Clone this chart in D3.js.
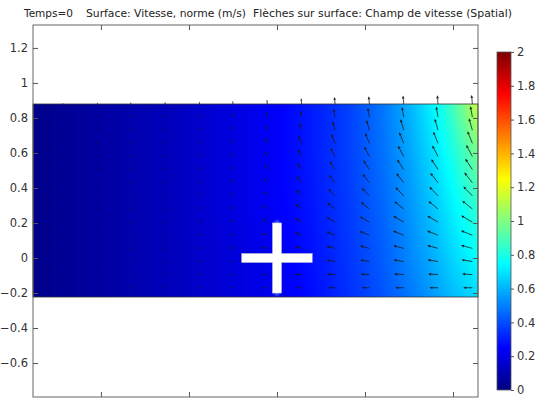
<!DOCTYPE html>
<html><head><meta charset="utf-8">
<script src="https://cdn.jsdelivr.net/npm/d3@7"></script>
<style>body{margin:0;background:#fff}svg{display:block}</style>
</head><body><svg id="chart" width="535" height="403"></svg>
<script>
// ---- data ----
const titleParts = ["Temps=0", "Surface: Vitesse, norme (m/s)", "Flèches sur surface: Champ de vitesse (Spatial)"];
const yTicks = [-0.6, -0.4, -0.2, 0, 0.2, 0.4, 0.6, 0.8, 1, 1.2];
const xTicks = [-1, -0.5, 0, 0.5, 1];
const colorTicks = [0, 0.2, 0.4, 0.6, 0.8, 1, 1.2, 1.4, 1.6, 1.8, 2];
const viewX = [-1.386, 1.142];
const viewY = [-0.794, 1.331];
const channelX = [-1.386, 1.142];
const channelY = [-0.22, 0.88];
const crossArm = 0.2;
const crossHalfWidth = 0.025;
// speed magnitude (m/s) sampled on a grid
const gridX = [-1.386, -1.0, -0.6, -0.3, 0, 0.2, 0.4, 0.6, 0.75, 0.9, 1.0, 1.142];
const gridY = [0.88, 0.6, 0.3, 0, -0.22];
const speedGrid = [
  [0.02, 0.07, 0.12, 0.18, 0.24, 0.30, 0.37, 0.48, 0.60, 0.75, 0.88, 1.14],
  [0.02, 0.07, 0.12, 0.18, 0.24, 0.30, 0.37, 0.47, 0.57, 0.70, 0.80, 0.98],
  [0.02, 0.07, 0.12, 0.18, 0.24, 0.29, 0.36, 0.45, 0.54, 0.65, 0.73, 0.85],
  [0.02, 0.07, 0.12, 0.17, 0.22, 0.28, 0.35, 0.43, 0.51, 0.60, 0.67, 0.76],
  [0.02, 0.07, 0.12, 0.17, 0.22, 0.27, 0.34, 0.41, 0.48, 0.56, 0.62, 0.68]
];
// arrow field
const arrowX = [-1.215, -1.02, -0.83, -0.635, -0.44, -0.25, -0.055, 0.14, 0.33, 0.525, 0.72, 0.915, 1.11];
const arrowY = [0.88, 0.805, 0.73, 0.655, 0.58, 0.505, 0.43, 0.355, 0.28, 0.205, 0.13, 0.055, -0.02, -0.095, -0.17];
const arrowAngle = [95, 100, 106, 112, 118, 123, 128, 134, 141, 150, 158, 165, 171, 176, 180];
const arrowSpeed = [
  [0.07,0.10,0.13,0.15,0.18,0.22,0.30,0.40,0.50,0.55,0.60,0.62,0.65],
  [0.09,0.12,0.15,0.18,0.21,0.27,0.37,0.48,0.60,0.67,0.73,0.76,0.79],
  [0.10,0.13,0.17,0.20,0.24,0.30,0.41,0.54,0.67,0.75,0.82,0.85,0.88],
  [0.10,0.14,0.18,0.21,0.25,0.32,0.43,0.57,0.71,0.79,0.86,0.89,0.93],
  [0.10,0.14,0.18,0.21,0.25,0.32,0.43,0.57,0.71,0.79,0.86,0.89,0.93],
  [0.10,0.14,0.18,0.21,0.25,0.32,0.43,0.57,0.71,0.79,0.86,0.89,0.93],
  [0.10,0.14,0.18,0.21,0.25,0.32,0.43,0.57,0.71,0.79,0.86,0.89,0.93],
  [0.10,0.14,0.18,0.21,0.25,0.32,0.43,0.57,0.71,0.79,0.86,0.89,0.93],
  [0.10,0.14,0.18,0.21,0.25,0.32,0.43,0.57,0.71,0.79,0.86,0.89,0.93],
  [0.10,0.14,0.18,0.21,0.25,0.32,0.43,0.57,0.71,0.79,0.86,0.89,0.93],
  [0.10,0.13,0.17,0.20,0.24,0.30,0.41,0.54,0.67,0.75,0.82,0.85,0.88],
  [0.09,0.13,0.16,0.19,0.23,0.29,0.39,0.51,0.64,0.71,0.77,0.80,0.84],
  [0.09,0.12,0.15,0.18,0.21,0.27,0.37,0.48,0.60,0.67,0.73,0.76,0.79],
  [0.08,0.11,0.14,0.17,0.20,0.26,0.34,0.46,0.57,0.63,0.69,0.71,0.74],
  [0.07,0.10,0.13,0.15,0.18,0.22,0.30,0.40,0.50,0.55,0.60,0.62,0.65]
];
const jetStops = [0, 0.25, 0.75, 1.25, 1.75, 2];
const jetColors = ["#00007f", "#0000ff", "#00ffff", "#ffff00", "#ff0000", "#7f0000"];

// ---- layout ----
const svg = d3.select("#chart");
const font = "DejaVu Sans, sans-serif";
const frame = {l: 33, r: 478, t: 25, b: 397};
const x = d3.scaleLinear().domain(viewX).range([frame.l, frame.r]);
const y = d3.scaleLinear().domain(viewY).range([frame.b, frame.t]);
const color = d3.scaleLinear().domain(jetStops).range(jetColors).interpolate(d3.interpolateRgb).clamp(true);
const cbBox = {l: 497, r: 511, t: 52, b: 390};
const cbScale = d3.scaleLinear().domain([0, 2]).range([cbBox.b, cbBox.t]);

// title
const titleX = [24, 86, 253];
const titleLen = [49, 160, 259];
titleParts.forEach((t, i) => {
  svg.append("text").attr("x", titleX[i]).attr("y", 17).attr("font-family", font)
    .attr("font-size", 10).attr("fill", "#222").attr("textLength", titleLen[i])
    .attr("lengthAdjust", "spacingAndGlyphs").text(t);
});

// surface via canvas
const cx0 = Math.round(x(channelX[0])), cx1 = Math.round(x(channelX[1]));
const cy0 = Math.round(y(channelY[1])), cy1 = Math.round(y(channelY[0]));
const W = cx1 - cx0, H = cy1 - cy0;
const canvas = document.createElement("canvas");
canvas.width = W; canvas.height = H;
const ctx = canvas.getContext("2d");
const img = ctx.createImageData(W, H);
const gx = gridX, gyAsc = gridY.slice().reverse(), gridAsc = speedGrid.slice().reverse();
function sample(vx, vy) {
  let i = Math.min(Math.max(d3.bisectRight(gx, vx) - 1, 0), gx.length - 2);
  let j = Math.min(Math.max(d3.bisectRight(gyAsc, vy) - 1, 0), gyAsc.length - 2);
  const tx = Math.min(Math.max((vx - gx[i]) / (gx[i+1] - gx[i]), 0), 1);
  const ty = Math.min(Math.max((vy - gyAsc[j]) / (gyAsc[j+1] - gyAsc[j]), 0), 1);
  const a = gridAsc[j][i], b = gridAsc[j][i+1], c = gridAsc[j+1][i], d = gridAsc[j+1][i+1];
  return (a*(1-tx) + b*tx)*(1-ty) + (c*(1-tx) + d*tx)*ty;
}
for (let py = 0; py < H; py++) {
  for (let px = 0; px < W; px++) {
    const v = sample(x.invert(cx0 + px + 0.5), y.invert(cy0 + py + 0.5));
    const c = d3.rgb(color(v));
    const k = (py * W + px) * 4;
    img.data[k] = c.r; img.data[k+1] = c.g; img.data[k+2] = c.b; img.data[k+3] = 255;
  }
}
ctx.putImageData(img, 0, 0);
svg.append("image").attr("x", cx0).attr("y", cy0).attr("width", W).attr("height", H)
  .attr("href", canvas.toDataURL());

// faint glow at cross tips
const defs = svg.append("defs");
const rg = defs.append("radialGradient").attr("id", "glow");
rg.append("stop").attr("offset", "0%").attr("stop-color", "#8fd8ff").attr("stop-opacity", 0.6);
rg.append("stop").attr("offset", "100%").attr("stop-color", "#3080ff").attr("stop-opacity", 0);
[[0, crossArm], [0, -crossArm]].forEach(p => {
  svg.append("circle").attr("cx", x(p[0])).attr("cy", y(p[1])).attr("r", 4.5).attr("fill", "url(#glow)");
});

// channel border
svg.append("rect").attr("x", cx0).attr("y", cy0).attr("width", W).attr("height", H)
  .attr("fill", "none").attr("stroke", "#333").attr("stroke-width", 0.8);

// arrows
const arrowScale = 14;
const ag = svg.append("g");
arrowY.forEach((ay, j) => {
  arrowX.forEach((axv, i) => {
    const bx = x(axv), by = y(ay);
    const len = arrowSpeed[j][i] * arrowScale;
    const a = arrowAngle[j] * Math.PI / 180;
    const ux = Math.cos(a), uy = -Math.sin(a);
    const tx = bx + ux * len, ty = by + uy * len;
    const h = Math.min(3, len * 0.4), w = h * 0.45;
    const hx = tx - ux * h, hy = ty - uy * h;
    ag.append("line").attr("x1", bx).attr("y1", by).attr("x2", hx).attr("y2", hy)
      .attr("stroke", "#1a1a1a").attr("stroke-width", 0.8);
    ag.append("path").attr("d", `M${tx},${ty}L${hx - uy*w},${hy + ux*w}L${hx + uy*w},${hy - ux*w}Z`)
      .attr("fill", "#1a1a1a");
  });
});

// cross (hole)
const cg = svg.append("g").attr("fill", "#fff").attr("stroke", "#ccc").attr("stroke-width", 0.6);
cg.append("rect").attr("x", x(-crossArm)).attr("y", y(crossHalfWidth))
  .attr("width", x(crossArm) - x(-crossArm)).attr("height", y(-crossHalfWidth) - y(crossHalfWidth));
cg.append("rect").attr("x", x(-crossHalfWidth)).attr("y", y(crossArm))
  .attr("width", x(crossHalfWidth) - x(-crossHalfWidth)).attr("height", y(-crossArm) - y(crossArm));
svg.append("rect").attr("x", x(-crossArm) + 0.5).attr("y", y(crossHalfWidth) + 0.5)
  .attr("width", x(crossArm) - x(-crossArm) - 1).attr("height", y(-crossHalfWidth) - y(crossHalfWidth) - 1).attr("fill", "#fff");

// frame and axes
svg.append("rect").attr("x", frame.l).attr("y", frame.t).attr("width", frame.r - frame.l)
  .attr("height", frame.b - frame.t).attr("fill", "none").attr("stroke", "#666").attr("stroke-width", 1);
function styleAxis(g) {
  g.select(".domain").remove();
  g.selectAll(".tick line").attr("stroke", "#555");
  g.selectAll("text").attr("font-family", font).attr("font-size", 11.5).attr("fill", "#333");
}
svg.append("g").attr("transform", `translate(${frame.l},0)`)
  .call(d3.axisLeft(y).tickValues(yTicks).tickSize(-5).tickPadding(5).tickFormat(d3.format("~g"))).call(styleAxis);
svg.append("g").attr("transform", `translate(${frame.r},0)`)
  .call(d3.axisRight(y).tickValues(yTicks).tickSize(-5).tickFormat("")).call(styleAxis);
svg.append("g").attr("transform", `translate(0,${frame.t})`)
  .call(d3.axisTop(x).tickValues(xTicks).tickSize(-5).tickFormat("")).call(styleAxis);
svg.append("g").attr("transform", `translate(0,${frame.b})`)
  .call(d3.axisBottom(x).tickValues(xTicks).tickSize(-5).tickFormat("")).call(styleAxis);

// colorbar
const lg = defs.append("linearGradient").attr("id", "jet").attr("x1", 0).attr("y1", 1).attr("x2", 0).attr("y2", 0);
d3.range(0, 2.0001, 0.05).forEach(v => {
  lg.append("stop").attr("offset", v / 2).attr("stop-color", color(v));
});
svg.append("rect").attr("x", cbBox.l).attr("y", cbBox.t).attr("width", cbBox.r - cbBox.l)
  .attr("height", cbBox.b - cbBox.t).attr("fill", "url(#jet)").attr("stroke", "#555").attr("stroke-width", 0.8);
svg.append("g").attr("transform", `translate(${cbBox.r},0)`)
  .call(d3.axisRight(cbScale).tickValues(colorTicks).tickSize(3).tickPadding(3).tickFormat(d3.format("~g")))
  .call(styleAxis);
</script></body></html>
